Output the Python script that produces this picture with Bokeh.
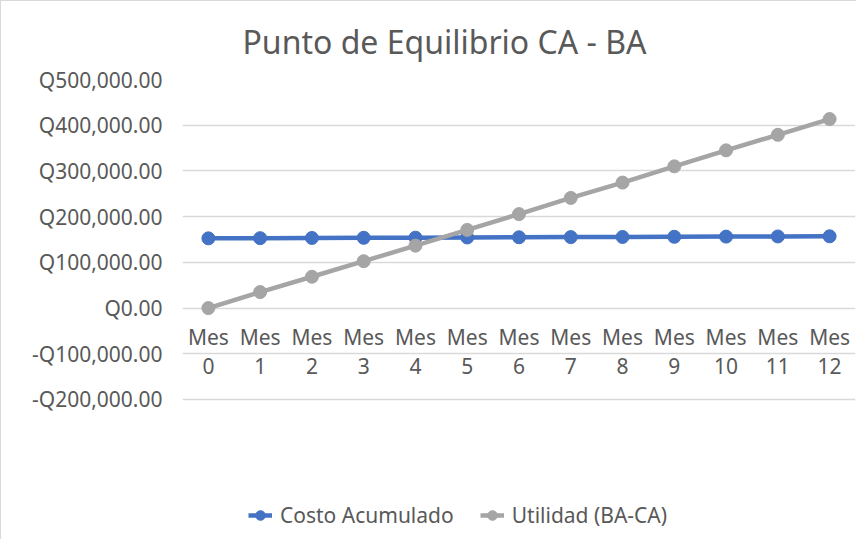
from bokeh.plotting import figure
from bokeh.models import Range1d, FixedTicker, Legend, LegendItem, Title
from bokeh.core.properties import value
from bokeh.embed import file_html
from bokeh.resources import INLINE

# ---- data ----
categories = ["Mes 0", "Mes 1", "Mes 2", "Mes 3", "Mes 4", "Mes 5", "Mes 6",
              "Mes 7", "Mes 8", "Mes 9", "Mes 10", "Mes 11", "Mes 12"]
costo_acumulado = [152500, 152900, 153300, 153700, 154000, 154400, 154800,
                   155200, 155500, 155900, 156300, 156700, 157000]
utilidad = [0, 35000, 68500, 102500, 136500, 171000, 205500,
            241000, 274500, 310000, 345000, 379000, 413500]
y_ticks = [-200000, -100000, 0, 100000, 200000, 300000, 400000, 500000]
y_tick_labels = ["-Q200,000.00", "-Q100,000.00", "Q0.00", "Q100,000.00",
                 "Q200,000.00", "Q300,000.00", "Q400,000.00", "Q500,000.00"]
title_text = "Punto de Equilibrio CA - BA"
series_names = ["Costo Acumulado", "Utilidad (BA-CA)"]

FONT = "Noto Sans"
TXT = "#595959"
BLUE = "#4472C4"
GRAY = "#A5A5A5"

xs = list(range(len(categories)))
top_labels = [c.split(" ")[0] for c in categories]
bottom_labels = [c.split(" ")[1] for c in categories]

p = figure(width=856, height=539, output_backend="svg", toolbar_location=None,
           x_range=Range1d(-0.5, 12.5), y_range=Range1d(-508500, 500000),
           min_border_left=181, min_border_right=2, min_border_top=78,
           min_border_bottom=0,
           styles={"border-left": "1px solid #d9d9d9", "border-top": "1px solid #d9d9d9"})
p.outline_line_color = None
p.background_fill_color = "white"
p.border_fill_color = "white"

p.title = Title(text=title_text, align="left", offset=60, standoff=33,
                text_font=FONT, text_font_size="32px", text_font_style="normal",
                text_color=TXT)

p.xaxis.visible = False
p.xgrid.visible = False

p.yaxis.ticker = FixedTicker(ticks=y_ticks)
p.yaxis.major_label_overrides = {t: l for t, l in zip(y_ticks, y_tick_labels)}
p.yaxis.axis_line_color = None
p.yaxis.major_tick_line_color = None
p.yaxis.minor_tick_line_color = None
p.yaxis.major_label_standoff = 14
p.yaxis.major_label_text_font = FONT
p.yaxis.major_label_text_font_size = "21px"
p.yaxis.major_label_text_color = TXT
p.ygrid.ticker = FixedTicker(ticks=y_ticks)
p.ygrid.grid_line_color = "#d9d9d9"
p.ygrid.grid_line_width = 1.3

# category labels under the y=0 axis
p.text(x=xs, y=[0] * len(xs), text=top_labels, y_offset=29,
       text_font=value(FONT), text_font_size="21px", text_color=TXT,
       text_align="center", text_baseline="middle")
p.text(x=xs, y=[0] * len(xs), text=bottom_labels, y_offset=58,
       text_font=value(FONT), text_font_size="21px", text_color=TXT,
       text_align="center", text_baseline="middle")

lb = p.line(xs, costo_acumulado, line_color=BLUE, line_width=4.5)
sb = p.scatter(xs, costo_acumulado, size=13, fill_color=BLUE, line_color=BLUE)
lg = p.line(xs, utilidad, line_color=GRAY, line_width=4.5)
sg = p.scatter(xs, utilidad, size=13, fill_color=GRAY, line_color=GRAY)

legend = Legend(items=[LegendItem(label=series_names[0], renderers=[lb, sb]),
                       LegendItem(label=series_names[1], renderers=[lg, sg])],
                orientation="horizontal", location=(66, 11),
                padding=0, margin=0, spacing=26, label_standoff=8,
                glyph_width=24, glyph_height=24, label_height=24,
                border_line_color=None, background_fill_alpha=0,
                label_text_font=FONT, label_text_font_size="21px",
                label_text_color=TXT, label_text_baseline="middle")
p.add_layout(legend)

open("out.html", "w").write(file_html(p, INLINE))
